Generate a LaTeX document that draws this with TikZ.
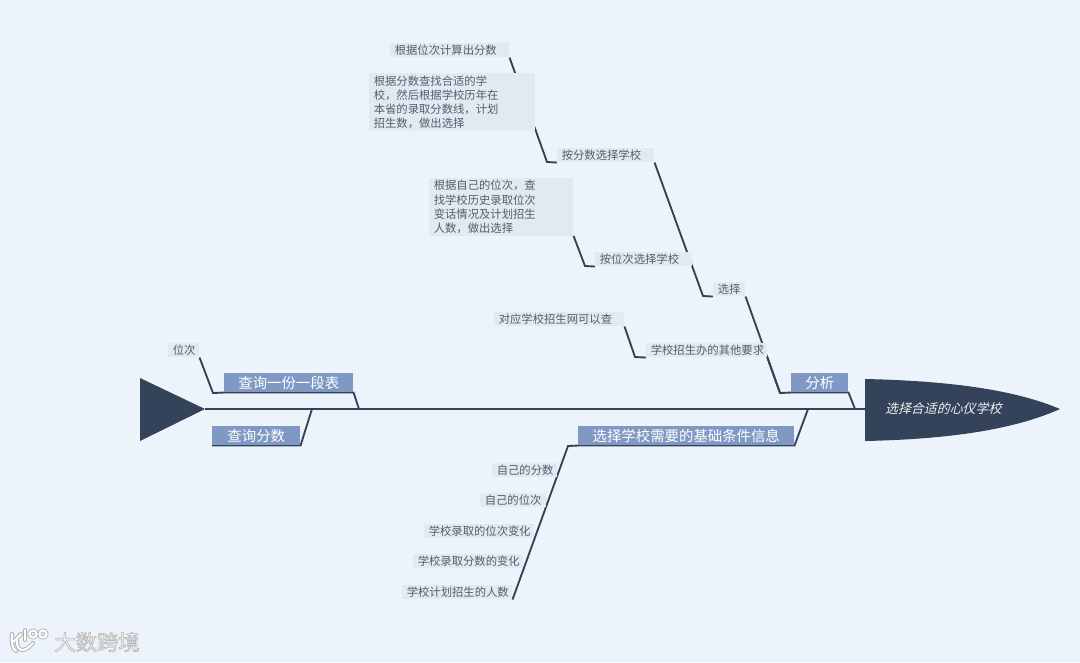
\documentclass[tikz,border=0pt]{standalone}
\usepackage{fontspec}
\setmainfont{Noto Sans CJK SC}
\newfontfamily\slantcjk[FakeSlant=0.25]{Noto Sans CJK SC}
\usetikzlibrary{backgrounds,positioning}
\definecolor{paper}{HTML}{ECF3FA}
\definecolor{ink}{HTML}{34435A}
\definecolor{topic}{HTML}{7F99C4}
\definecolor{leaf}{HTML}{E3E9F1}
\definecolor{leaftext}{HTML}{545D6E}
\newcommand{\outlined}[1]{\special{pdf:code q 2 Tr 0.55 w 0.72 G}#1\special{pdf:code Q}}
\begin{document}
\begin{tikzpicture}[x=0.75pt, y=-0.75pt,
  sub/.style={anchor=north west, fill=leaf, text=leaftext, font=\fontsize{8.5pt}{10.7pt}\selectfont,
    inner xsep=3.4pt, inner ysep=0pt, minimum height=10.5pt, align=left, text width={#1*0.75pt-6.8pt}},
  main/.style={anchor=north west, fill=topic, text=white, font=\fontsize{10.8pt}{12pt}\selectfont,
    inner sep=0pt, minimum height=14.25pt, align=center, text width={#1*0.75pt}},
  conn/.style={ink, line width=1.4pt, line join=miter}
]
  \node[sub=119] (s1) at (390,43) {根据位次计算出分数};
  \node[sub=166, minimum height=43.5pt] (s2) at (369,73) {根据分数查找合适的学\\校，然后根据学校历年在\\本省的录取分数线，计划\\招生数，做出选择};
  \node[sub=97] (s3) at (557,148) {按分数选择学校};
  \node[sub=144, minimum height=43pt] (s4) at (429,178) {根据自己的位次，查\\找学校历史录取位次\\变话情况及计划招生\\人数，做出选择};
  \node[sub=97] (s5) at (595,252) {按位次选择学校};
  \node[sub=32] (s6) at (713,282) {选择};
  \node[sub=130] (s7) at (494,312) {对应学校招生网可以查};
  \node[sub=121] (s8) at (646,343) {学校招生办的其他要求};
  \node[sub=31] (s9) at (168,343) {位次};
  \foreach \i/\x/\y/\w/\t in {1/492/463/65/自己的分数, 2/480/493/66/自己的位次, 3/424/524/110/学校录取的位次变化, 4/413/554/110/学校录取分数的变化, 5/402/585/110/学校计划招生的人数}
    {\node[sub=\w] (b\i) at (\x,\y) {\t};}

  \node[main=129] (m1) at (224,373) {查询一份一段表};
  \node[main=88] (m2) at (212,426) {查询分数};
  \node[main=57] (m3) at (791,373) {分析};
  \node[main=216] (m4) at (578,426) {选择学校需要的基础条件信息};

  \node[anchor=west, inner sep=0pt, minimum width=117pt, minimum height=20pt, align=center, text=white!92!ink, font=\fontsize{9.7pt}{12pt}\slantcjk] (head) at (865,409) {选择合适的心仪学校};
  \coordinate (tailtip) at (205,409);

  % junctions on the spine and bends
  \coordinate (j1) at (359,409);
  \coordinate (j2) at (312,409);
  \coordinate (j3) at (855,409);
  \coordinate (j4) at (808,409);
  \coordinate (k1) at (547,162);
  \coordinate (k2) at (585,266);
  \coordinate (k3) at (703,296);
  \coordinate (k4) at (635,357);
  \coordinate (k5) at (780,393);
  \coordinate (k6) at (213,393);
  \coordinate (k7) at (568,446);

  \begin{scope}[on background layer]
    \fill[paper] (0,0) rectangle (1080,662);
    \fill[ink] (865,379) .. controls (960,381) and (1020,392) .. (1060,409) .. controls (1020,427) and (960,439) .. (865,441) -- cycle;
    \fill[ink] (140,378) -- (tailtip) -- (140,441) -- cycle;
    \draw[conn] (tailtip) -- (head.west);
    \draw[conn] (s9.south east) -- (k6) -- (m1.south west) -- (m1.south east) -- (j1);
    \draw[conn] (m2.south west) -- (m2.south east) -- (j2);
    \draw[conn] (s8.south east) -- (k5) -- (m3.south west) -- (m3.south east) -- (j3);
    \draw[conn] (s6.south east) -- (k5);
    \draw[conn] (s3.south east) -- (k3) -- (s6.south west);
    \draw[conn] (s1.south east) -- (k1) -- (s3.south west);
    \draw[conn] (s4.south east) -- (k2) -- (s5.south west);
    \draw[conn] (s7.south east) -- (k4) -- (s8.south west);
    \draw[conn] (b5.south east) -- (k7) -- (m4.south west) -- (m4.south east) -- (j4);
  \end{scope}

  % watermark
  \begin{scope}[line cap=round, line join=round]
    \foreach \c/\lw in {black!30/3pt, white/1.6pt}{
      \draw[\c, line width=\lw] (12,634) .. controls (11,642) and (12,648) .. (16,651);
      \draw[\c, line width=\lw] (21,634) -- (12,643);
      \draw[\c, line width=\lw] (17,640) .. controls (16,651) and (24,654) .. (33,643);
      \draw[\c, line width=\lw] (25,630) -- (25,640);
      \draw[\c, line width=\lw] (33,634) circle (3.6);
      \draw[\c, line width=\lw] (43,634) circle (3.6);
    }
  \end{scope}
  \node[text=white, inner sep=0pt, font=\fontsize{16pt}{18pt}\selectfont] (wm) at (97,642) {\outlined{大数跨境}};
\end{tikzpicture}
\end{document}
